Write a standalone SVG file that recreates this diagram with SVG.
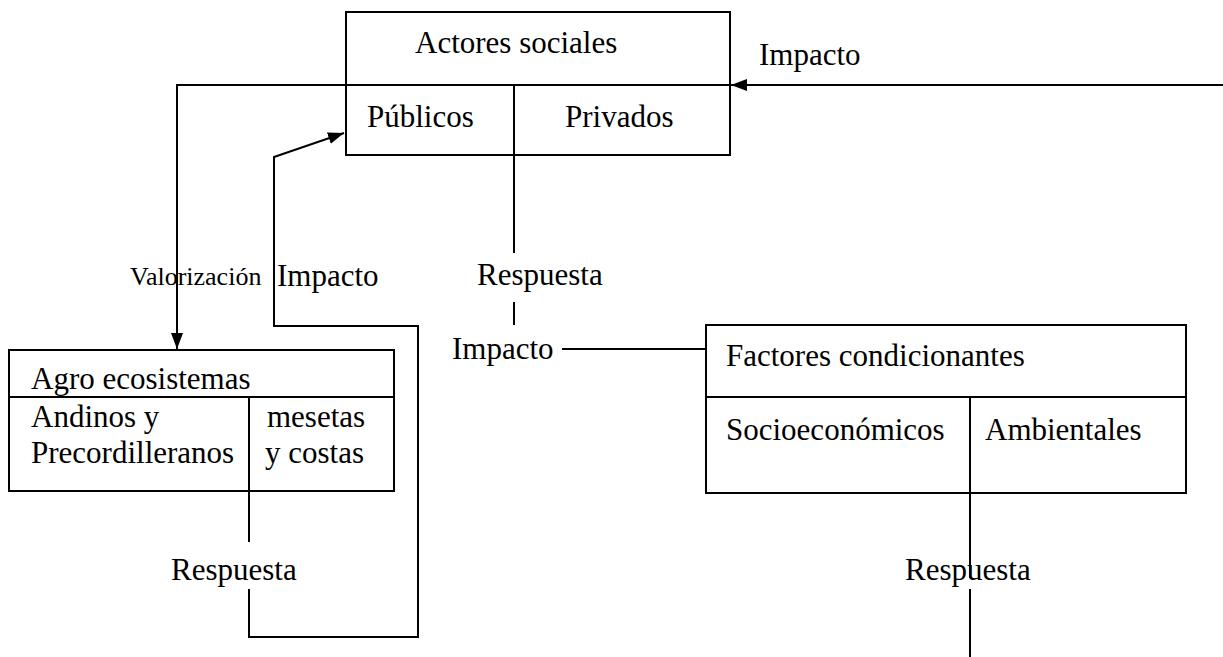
<svg xmlns="http://www.w3.org/2000/svg" width="1223" height="657" viewBox="0 0 1223 657">
  <style>
    .box { fill: none; stroke: #000; stroke-width: 2; }
    .ln { fill: none; stroke: #000; stroke-width: 2; }
    .t { font-family: "Liberation Serif", "Times New Roman", serif; font-size: 31px; fill: #000; }
    .ts { font-family: "Liberation Serif", "Times New Roman", serif; font-size: 26px; fill: #000; }
  </style>
  <defs>
    <marker id="arr" markerUnits="userSpaceOnUse" markerWidth="18" markerHeight="14" refX="16" refY="6" orient="auto">
      <path d="M0,0 L16,6 L0,12 z" fill="#000"/>
    </marker>
  </defs>
  <rect width="1223" height="657" fill="#fff"/>

  <g id="connectors">
    <line class="ln" x1="1223" y1="85" x2="731" y2="85" marker-end="url(#arr)"/>
    <polyline class="ln" points="346,85 177,85 177,349" marker-end="url(#arr)"/>
    <polyline class="ln" points="249,589 249,637 418,637 418,326 274,326 274,157 344,133" marker-end="url(#arr)"/>
    <line class="ln" x1="514" y1="155" x2="514" y2="253"/>
    <line class="ln" x1="514" y1="302" x2="514" y2="325"/>
    <line class="ln" x1="562" y1="349" x2="706" y2="349"/>
    <line class="ln" x1="249" y1="491" x2="249" y2="542"/>
    <line class="ln" x1="970" y1="493" x2="970" y2="578"/>
    <line class="ln" x1="970" y1="589" x2="970" y2="657"/>
  </g>

  <g id="actores">
    <rect class="box" x="346" y="12" width="384" height="143"/>
    <line class="ln" x1="346" y1="85" x2="730" y2="85"/>
    <line class="ln" x1="514" y1="85" x2="514" y2="155"/>
    <text class="t" x="415" y="53">Actores sociales</text>
    <text class="t" x="367" y="127">Públicos</text>
    <text class="t" x="565" y="127">Privados</text>
  </g>

  <g id="agro">
    <rect class="box" x="9" y="350" width="385" height="141"/>
    <line class="ln" x1="9" y1="397" x2="394" y2="397"/>
    <line class="ln" x1="249" y1="397" x2="249" y2="491"/>
    <text class="t" x="31" y="389">Agro ecosistemas</text>
    <text class="t" x="31" y="427">Andinos y</text>
    <text class="t" x="31" y="463">Precordilleranos</text>
    <text class="t" x="267" y="427">mesetas</text>
    <text class="t" x="265" y="463">y costas</text>
  </g>

  <g id="factores">
    <rect class="box" x="706" y="325" width="480" height="168"/>
    <line class="ln" x1="706" y1="397" x2="1186" y2="397"/>
    <line class="ln" x1="970" y1="397" x2="970" y2="493"/>
    <text class="t" x="726" y="366">Factores condicionantes</text>
    <text class="t" x="726" y="440">Socioeconómicos</text>
    <text class="t" x="985" y="440">Ambientales</text>
  </g>

  <g id="labels">
    <text class="t" x="759" y="65">Impacto</text>
    <text class="ts" x="130" y="285">Valorización</text>
    <text class="t" x="277" y="286">Impacto</text>
    <text class="t" x="477" y="285">Respuesta</text>
    <text class="t" x="452" y="359">Impacto</text>
    <text class="t" x="171" y="580">Respuesta</text>
    <text class="t" x="905" y="580">Respuesta</text>
  </g>
</svg>
